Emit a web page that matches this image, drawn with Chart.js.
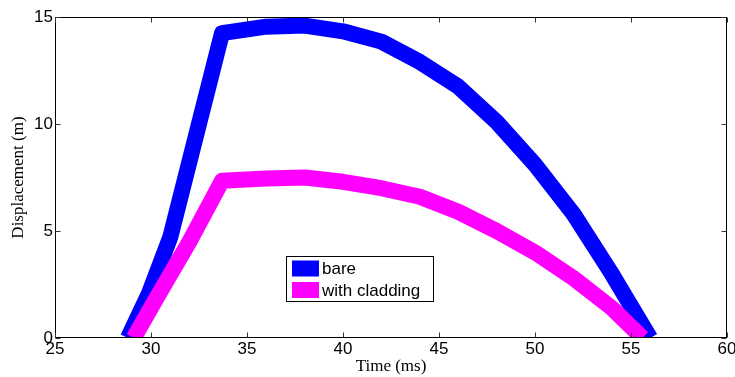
<!DOCTYPE html>
<html>
<head>
<meta charset="utf-8">
<title>Displacement vs time</title>
<script src="https://cdn.jsdelivr.net/npm/chart.js@4/dist/chart.umd.min.js"></script>
<style>
  html, body { margin: 0; padding: 0; background: #fff; }
  #wrap { width: 735px; height: 377px; }
</style>
</head>
<body>
<div id="wrap"><canvas id="dispChart" width="735" height="377"></canvas></div>
<script>
// displacement histories (time in ms, displacement in m)
const timeBare = [28.8, 29.9, 31.0, 33.7, 36, 38, 40, 42, 44, 46, 48, 50, 52, 54, 56];
const dispBare = [0, 2.1, 4.7, 14.25, 14.55, 14.6, 14.33, 13.85, 12.9, 11.75, 10.1, 8.1, 5.8, 3.0, 0];
const timeClad = [29.1, 30.5, 32, 33.7, 36, 38, 40, 42, 44, 46, 48, 50, 52, 54, 55.6];
const dispClad = [0, 2.2, 4.5, 7.35, 7.45, 7.5, 7.3, 7.0, 6.6, 5.9, 5.0, 4.0, 2.8, 1.4, 0];

const seriesNames = ["bare", "with cladding"];
const seriesColors = ["#0000ff", "#ff00ff"];

const xTicks = [25, 30, 35, 40, 45, 50, 55, 60];
const yTicks = [0, 5, 10, 15];

const toPoints = (xs, ys) => xs.map((x, i) => ({ x: x, y: ys[i] }));

const sansFont = { family: "'Liberation Sans', Arial, sans-serif", size: 17 };
const serifFont = { family: "'Liberation Serif', 'Times New Roman', serif", size: 17 };

// box around the axes with inward tick marks on all four sides
const framePlugin = {
  id: "frame",
  afterDraw(chart) {
    const { ctx, chartArea: a, scales } = chart;
    const l = Math.round(a.left) + 0.5, r = Math.round(a.right) - 0.5;
    const t = Math.round(a.top) + 0.5, b = Math.round(a.bottom) - 0.5;
    const len = 5;
    ctx.save();
    ctx.strokeStyle = "#000";
    ctx.lineWidth = 1;
    ctx.strokeRect(l, t, r - l, b - t);
    ctx.strokeStyle = "#333";
    ctx.beginPath();
    xTicks.forEach(v => {
      const px = Math.round(scales.x.getPixelForValue(v)) + 0.5;
      ctx.moveTo(px, b); ctx.lineTo(px, b - len);
      ctx.moveTo(px, t); ctx.lineTo(px, t + len);
    });
    yTicks.forEach(v => {
      const py = Math.round(scales.y.getPixelForValue(v)) + 0.5;
      ctx.moveTo(l, py); ctx.lineTo(l + len, py);
      ctx.moveTo(r, py); ctx.lineTo(r - len, py);
    });
    ctx.stroke();
    ctx.restore();
  }
};

// boxed legend sitting inside the plot, near the bottom middle
const boxLegendPlugin = {
  id: "boxLegend",
  afterDraw(chart) {
    const { ctx } = chart;
    const x0 = 286.5, y0 = 256.5, w = 147, h = 45;
    ctx.save();
    ctx.fillStyle = "#fff";
    ctx.fillRect(x0, y0, w, h);
    ctx.strokeStyle = "#000";
    ctx.lineWidth = 1;
    ctx.strokeRect(x0, y0, w, h);
    ctx.font = `${sansFont.size}px ${sansFont.family}`;
    ctx.textBaseline = "middle";
    ctx.textAlign = "left";
    seriesNames.forEach((name, i) => {
      const cy = 268.5 + i * 21.5;
      ctx.fillStyle = seriesColors[i];
      ctx.fillRect(292, cy - 8, 27, 16);
      ctx.fillStyle = "#000";
      ctx.fillText(name, 322, cy + 1);
    });
    ctx.restore();
  }
};

new Chart(document.getElementById("dispChart"), {
  type: "line",
  data: {
    datasets: [
      {
        label: seriesNames[0],
        data: toPoints(timeBare, dispBare),
        borderColor: seriesColors[0],
        order: 1
      },
      {
        label: seriesNames[1],
        data: toPoints(timeClad, dispClad),
        borderColor: seriesColors[1],
        order: 0
      }
    ]
  },
  options: {
    responsive: false,
    animation: false,
    devicePixelRatio: 1,
    layout: { padding: { left: 0, top: 17, right: 8, bottom: 0 } },
    elements: {
      line: { borderWidth: 16, tension: 0, borderJoinStyle: "round", borderCapStyle: "butt", fill: false },
      point: { radius: 0, hoverRadius: 0 }
    },
    datasets: { line: { clip: 0 } },
    plugins: {
      legend: { display: false },
      tooltip: { enabled: false }
    },
    scales: {
      x: {
        type: "linear",
        min: 25,
        max: 60,
        afterBuildTicks: s => { s.ticks = xTicks.map(v => ({ value: v })); },
        afterFit: s => { s.height = 39; s.paddingLeft = 0; s.paddingRight = 0; },
        grid: { display: false, drawTicks: false },
        border: { display: false },
        ticks: { color: "#000", font: sansFont, padding: 1, maxRotation: 0 },
        title: { display: true, text: "Time (ms)", color: "#000", font: serifFont, padding: { top: 0, bottom: 0 } }
      },
      y: {
        type: "linear",
        min: 0,
        max: 15,
        afterBuildTicks: s => { s.ticks = yTicks.map(v => ({ value: v })); },
        afterFit: s => { s.width = 55; s.paddingTop = 0; s.paddingBottom = 0; },
        grid: { display: false, drawTicks: false },
        border: { display: false },
        ticks: { color: "#000", font: sansFont, padding: 2 },
        title: { display: true, text: "Displacement (m)", color: "#000", font: serifFont, padding: { top: 8, bottom: 0 } }
      }
    }
  },
  plugins: [framePlugin, boxLegendPlugin]
});
</script>
</body>
</html>
